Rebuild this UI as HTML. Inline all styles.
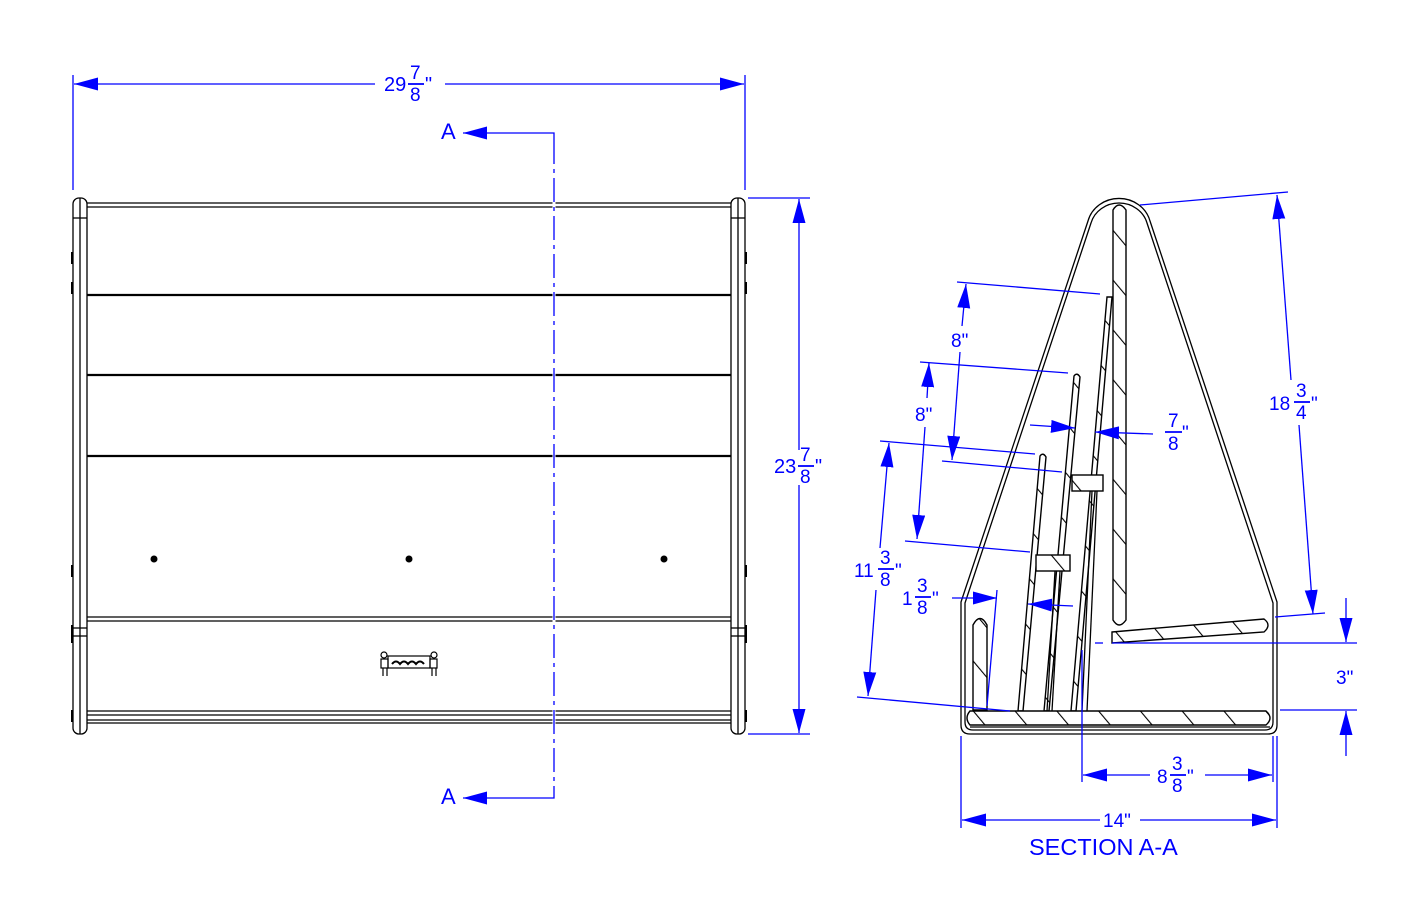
<!DOCTYPE html>
<html><head><meta charset="utf-8"><style>
html,body{margin:0;padding:0;background:#fff;}
svg{display:block;}
.k{stroke:#000;fill:none;stroke-width:1.3}
.kt{stroke:#000;fill:none;stroke-width:2.2}
.b{stroke:#0000ff;fill:none;stroke-width:1.3}
text{font-family:"Liberation Sans",sans-serif;fill:#0000ff;}
</style></head><body>
<svg width="1407" height="909" viewBox="0 0 1407 909" xmlns="http://www.w3.org/2000/svg">
<defs>
<marker id="ar" markerUnits="userSpaceOnUse" markerWidth="26" markerHeight="14" refX="24" refY="6.5" orient="auto"><path d="M0,0 L24,6.5 L0,13 Z" fill="#0000ff"/></marker>
<pattern id="h" patternUnits="userSpaceOnUse" width="32" height="32" patternTransform="rotate(-40)"><rect width="32" height="32" fill="#fff"/><line x1="0" y1="0" x2="0" y2="32" stroke="#000" stroke-width="2.2"/></pattern>
</defs>

<!-- ===== LEFT FRONT VIEW ===== -->
<g>
<rect x="73" y="198" width="14" height="536" rx="6" class="k"/>
<line x1="80" y1="198" x2="80" y2="734" class="k"/>
<line x1="73" y1="218" x2="87" y2="218" class="k"/>
<line x1="73" y1="628" x2="87" y2="628" class="k"/>
<line x1="73" y1="636" x2="87" y2="636" class="k"/>
<rect x="731" y="198" width="14" height="536" rx="6" class="k"/>
<line x1="738" y1="198" x2="738" y2="734" class="k"/>
<line x1="731" y1="218" x2="745" y2="218" class="k"/>
<line x1="731" y1="628" x2="745" y2="628" class="k"/>
<line x1="731" y1="636" x2="745" y2="636" class="k"/>
<g fill="#000">
<rect x="71" y="252" width="2" height="12"/><rect x="71" y="282" width="2" height="12"/><rect x="71" y="565" width="2" height="12"/><rect x="71" y="625" width="2" height="18"/><rect x="71" y="710" width="2" height="12"/>
<rect x="745" y="252" width="2" height="12"/><rect x="745" y="282" width="2" height="12"/><rect x="745" y="565" width="2" height="12"/><rect x="745" y="625" width="2" height="18"/><rect x="745" y="710" width="2" height="12"/>
</g>
<line x1="87" y1="203" x2="731" y2="203" class="k"/>
<line x1="87" y1="207" x2="731" y2="207" class="k"/>
<line x1="87" y1="295" x2="731" y2="295" class="kt"/>
<line x1="87" y1="375" x2="731" y2="375" class="kt"/>
<line x1="87" y1="456" x2="731" y2="456" class="kt"/>
<line x1="87" y1="617" x2="731" y2="617" class="k"/>
<line x1="87" y1="621" x2="731" y2="621" class="k"/>
<line x1="87" y1="711" x2="731" y2="711" class="k"/>
<line x1="87" y1="715" x2="731" y2="715" class="k"/>
<line x1="87" y1="720" x2="731" y2="720" class="k"/>
<line x1="87" y1="723" x2="731" y2="723" class="k"/>
<circle cx="154" cy="559" r="3.5" fill="#000"/><circle cx="409" cy="559" r="3.5" fill="#000"/><circle cx="664" cy="559" r="3.5" fill="#000"/>
<g stroke="#000" fill="none" stroke-width="1.2">
<rect x="388" y="656" width="42" height="12"/>
<circle cx="384" cy="655" r="3"/><rect x="381" y="659" width="7" height="9"/><line x1="383" y1="668" x2="383" y2="676"/><line x1="387" y1="668" x2="387" y2="676"/>
<circle cx="434" cy="655" r="3"/><rect x="430" y="659" width="7" height="9"/><line x1="432" y1="668" x2="432" y2="676"/><line x1="436" y1="668" x2="436" y2="676"/>
<path d="M392,664 q4,-5 8,0 q4,-5 8,0 q4,-5 8,0 q4,-5 8,0" stroke-width="2"/>
</g>
</g>

<line x1="73" y1="75" x2="73" y2="190" class="b"/>
<line x1="745" y1="75" x2="745" y2="190" class="b"/>
<line x1="375" y1="84" x2="74" y2="84" class="b" marker-end="url(#ar)"/>
<line x1="445" y1="84" x2="744" y2="84" class="b" marker-end="url(#ar)"/>
<text x="384" y="91" font-size="20">29</text>
<text x="410" y="79" font-size="19">7</text><line x1="408" y1="84" x2="424" y2="84" stroke="#0000ff" stroke-width="1.8"/><text x="410" y="101" font-size="19">8</text><text x="425" y="91" font-size="20">"</text>

<line x1="748" y1="198" x2="810" y2="198" class="b"/>
<line x1="748" y1="734" x2="810" y2="734" class="b"/>
<line x1="799" y1="450" x2="799" y2="199" class="b" marker-end="url(#ar)"/>
<line x1="799" y1="485" x2="799" y2="733" class="b" marker-end="url(#ar)"/>
<text x="774" y="473" font-size="20">23</text>
<text x="800" y="461" font-size="19">7</text><line x1="798" y1="466" x2="814" y2="466" stroke="#0000ff" stroke-width="1.8"/><text x="800" y="483" font-size="19">8</text><text x="815" y="473" font-size="20">"</text>

<polyline points="510,133 554,133 554,798 510,798" class="b"/>
<line x1="554" y1="140" x2="554" y2="795" stroke="#fff" stroke-width="3"/>
<line x1="554" y1="140" x2="554" y2="795" stroke="#0000ff" stroke-width="1.3" stroke-dasharray="24,5,4,5"/>
<line x1="510" y1="133" x2="463" y2="133" stroke="#0000ff" stroke-width="1.3" marker-end="url(#ar)"/>
<line x1="510" y1="798" x2="463" y2="798" stroke="#0000ff" stroke-width="1.3" marker-end="url(#ar)"/>
<text x="441" y="139" font-size="22">A</text>
<text x="441" y="804" font-size="22">A</text>

<!-- ===== SECTION VIEW ===== -->
<g>
<path d="M1088,221 A32,30 0 0 1 1150,221 L1277,602 L1277,725 Q1277,734 1268,734 L970,734 Q961,734 961,725 L961,602 Z" class="k"/>
<path d="M1091,223 A29,27 0 0 1 1147,223 L1273,603 L1273,722 Q1273,730 1265,730 L973,730 Q965,730 965,722 L965,603 Z" class="k"/>
<path d="M1113,210 Q1119,200 1126,210 L1126,620 Q1119,630 1113,620 Z" fill="url(#h)" stroke="#000" stroke-width="1.4"/>
<path d="M1112,632 L1264,619 Q1272,625 1264,632 L1112,643 Z" fill="url(#h)" stroke="#000" stroke-width="1.4"/>
<path d="M973,625 Q980,612 987,625 L987,710 L973,710 Z" fill="url(#h)" stroke="#000" stroke-width="1.4"/>
<path d="M1107,297 L1112,297 L1076,711 L1071,711 Z" fill="url(#h)" stroke="#000" stroke-width="1.4"/>
<path d="M1074,376 Q1077,372 1080,377 L1049,711 L1044,711 Z" fill="url(#h)" stroke="#000" stroke-width="1.4"/>
<path d="M1040,456 Q1043,452 1046,457 L1023,711 L1018,711 Z" fill="url(#h)" stroke="#000" stroke-width="1.4"/>
<line x1="1092" y1="491" x2="1082" y2="711" class="k"/><line x1="1097" y1="491" x2="1087" y2="711" class="k"/>
<line x1="1055" y1="571" x2="1047" y2="711" class="k"/><line x1="1060" y1="571" x2="1052" y2="711" class="k"/>
<rect x="1072" y="475" width="31" height="16" fill="url(#h)" stroke="#000" stroke-width="1.4"/>
<rect x="1036" y="555" width="34" height="16" fill="url(#h)" stroke="#000" stroke-width="1.4"/>
<path d="M970,711 L1266,711 Q1274,718 1266,725 L970,725 Q964,718 970,711 Z" fill="url(#h)" stroke="#000" stroke-width="1.4"/>
<line x1="970" y1="727" x2="1270" y2="727" class="k"/>
</g>

<g class="b">
<line x1="957" y1="282" x2="1100" y2="294"/>
<line x1="942" y1="461" x2="1062" y2="472"/>
<line x1="962" y1="326" x2="966" y2="284" marker-end="url(#ar)"/>
<line x1="960" y1="352" x2="952" y2="460" marker-end="url(#ar)"/>
<line x1="920" y1="362" x2="1068" y2="373"/>
<line x1="905" y1="541" x2="1030" y2="552"/>
<line x1="927" y1="398" x2="929" y2="363" marker-end="url(#ar)"/>
<line x1="925" y1="427" x2="917" y2="539" marker-end="url(#ar)"/>
<line x1="880" y1="441" x2="1035" y2="454"/>
<line x1="857" y1="697" x2="1010" y2="711"/>
<line x1="880" y1="548" x2="889" y2="443" marker-end="url(#ar)"/>
<line x1="876" y1="590" x2="868" y2="696" marker-end="url(#ar)"/>
<line x1="997" y1="590" x2="987" y2="706"/>
<line x1="952" y1="598" x2="997" y2="598" marker-end="url(#ar)"/>
<line x1="1073" y1="606" x2="1028" y2="604" marker-end="url(#ar)"/>
<line x1="1030" y1="425" x2="1075" y2="428" marker-end="url(#ar)"/>
<line x1="1153" y1="434" x2="1095" y2="432" marker-end="url(#ar)"/>
<line x1="1140" y1="205" x2="1288" y2="192"/>
<line x1="1275" y1="617" x2="1325" y2="613"/>
<line x1="1291" y1="380" x2="1277" y2="195" marker-end="url(#ar)"/>
<line x1="1299" y1="425" x2="1313" y2="614" marker-end="url(#ar)"/>
<line x1="1095" y1="643" x2="1108" y2="643" stroke-dasharray="8,6"/>
<line x1="1112" y1="643" x2="1357" y2="643"/>
<line x1="1280" y1="710" x2="1357" y2="710"/>
<line x1="1346" y1="598" x2="1346" y2="642" marker-end="url(#ar)"/>
<line x1="1346" y1="756" x2="1346" y2="711" marker-end="url(#ar)"/>
<line x1="1082" y1="650" x2="1082" y2="782"/>
<line x1="1273" y1="736" x2="1273" y2="782"/>
<line x1="1150" y1="775" x2="1083" y2="775" marker-end="url(#ar)"/>
<line x1="1205" y1="775" x2="1272" y2="775" marker-end="url(#ar)"/>
<line x1="961" y1="736" x2="961" y2="828"/>
<line x1="1277" y1="736" x2="1277" y2="828"/>
<line x1="1100" y1="820" x2="962" y2="820" marker-end="url(#ar)"/>
<line x1="1140" y1="820" x2="1276" y2="820" marker-end="url(#ar)"/>
</g>

<text x="951" y="347" font-size="19">8"</text>
<text x="915" y="421" font-size="19">8"</text>
<text x="854" y="577" font-size="19">11</text>
<text x="880" y="564" font-size="19">3</text><line x1="878" y1="569" x2="894" y2="569" stroke="#0000ff" stroke-width="1.8"/><text x="880" y="586" font-size="19">8</text><text x="895" y="577" font-size="19">"</text>
<text x="902" y="605" font-size="19">1</text>
<text x="917" y="592" font-size="19">3</text><line x1="915" y1="597" x2="931" y2="597" stroke="#0000ff" stroke-width="1.8"/><text x="917" y="614" font-size="19">8</text><text x="932" y="605" font-size="19">"</text>
<text x="1168" y="427" font-size="19">7</text><line x1="1165" y1="432" x2="1182" y2="432" stroke="#0000ff" stroke-width="1.8"/><text x="1168" y="450" font-size="19">8</text><text x="1182" y="439" font-size="19">"</text>
<text x="1269" y="410" font-size="19">18</text>
<text x="1296" y="397" font-size="19">3</text><line x1="1294" y1="402" x2="1310" y2="402" stroke="#0000ff" stroke-width="1.8"/><text x="1296" y="419" font-size="19">4</text><text x="1311" y="410" font-size="19">"</text>
<text x="1336" y="684" font-size="19">3"</text>
<text x="1157" y="783" font-size="19">8</text>
<text x="1172" y="770" font-size="19">3</text><line x1="1170" y1="775" x2="1186" y2="775" stroke="#0000ff" stroke-width="1.8"/><text x="1172" y="792" font-size="19">8</text><text x="1187" y="783" font-size="19">"</text>
<text x="1103" y="827" font-size="19">14"</text>
<text x="1029" y="855" font-size="23.5">SECTION A-A</text>
</svg>
</body></html>
